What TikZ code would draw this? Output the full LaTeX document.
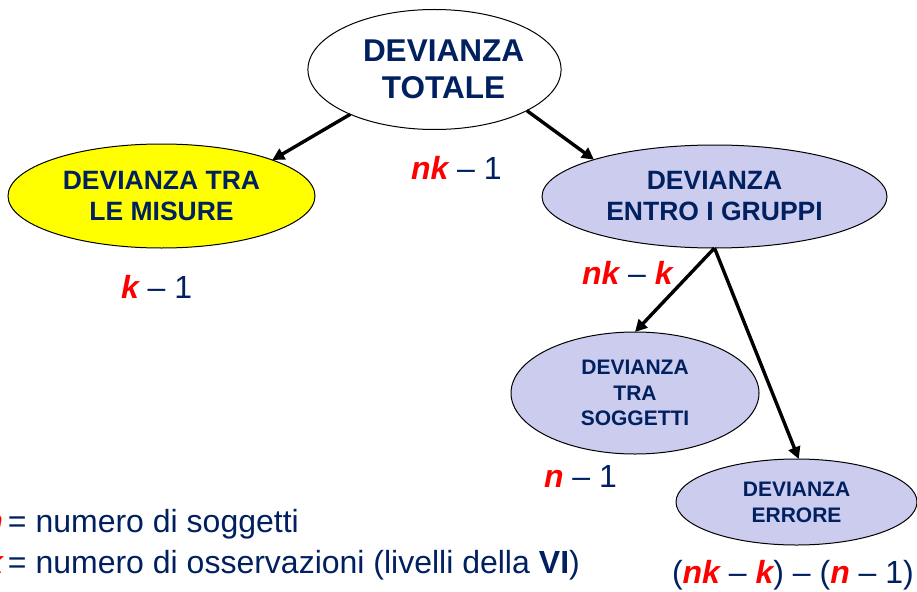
\documentclass[tikz,border=0pt]{standalone}
\usepackage{fontspec}
\setmainfont{Liberation Sans}
\usetikzlibrary{shapes.geometric,arrows.meta}
\definecolor{navy}{RGB}{0,32,96}
\definecolor{lav}{RGB}{204,204,238}
\definecolor{yel}{RGB}{255,255,0}
\newcommand{\V}[1]{{\color{red}\bfseries\itshape #1}}
\begin{document}
\begin{tikzpicture}[x=1pt,y=-1pt,
  ell/.style={ellipse,draw=black,line width=1pt,inner sep=0pt,outer sep=0pt,text=navy,align=center},
  conn/.style={line width=3.4pt,-{Triangle[length=12pt,width=12pt]}},
  lbl/.style={anchor=base west,inner sep=0pt,outer sep=0pt,text=navy,font=\fontsize{32}{38}\selectfont}]
\useasboundingbox (0,0) rectangle (917,591);
\clip (0,0) rectangle (917,591);
% ellipses
\node[ell,fill=white,minimum width=252pt,minimum height=120pt,font=\bfseries\fontsize{31.5}{37}\selectfont] (tot) at (434.5,69.5) {\hspace*{18pt}DEVIANZA\\\hspace*{18pt}TOTALE};
\node[ell,fill=yel,minimum width=307pt,minimum height=104pt,font=\bfseries\fontsize{26.5}{31}\selectfont] (mis) at (161.5,196) {DEVIANZA TRA\\LE MISURE};
\node[ell,fill=lav,minimum width=345pt,minimum height=103pt,font=\bfseries\fontsize{26.5}{31}\selectfont] (ent) at (714.5,196.5) {DEVIANZA\\ENTRO I GRUPPI};
\node[ell,fill=lav,minimum width=248pt,minimum height=122pt,font=\bfseries\fontsize{21}{25.5}\selectfont] (sog) at (635,393) {DEVIANZA\\TRA\\SOGGETTI};
\node[ell,fill=lav,minimum width=241pt,minimum height=86pt,font=\bfseries\fontsize{21}{26}\selectfont] (err) at (796.5,502) {DEVIANZA\\ERRORE};
% connectors
\draw[conn] (tot.208) -- (mis.18.5);
\draw[conn] (tot.336.8) -- (ent.163);
\draw[conn] (ent.south) -- (sog.north);
\draw[conn] (ent.south) -- (err.87);
% labels
\node[lbl] (l1) at (411,179) {\V{nk} – 1};
\node[lbl] (l2) at (121,298) {\V{k} – 1};
\node[lbl] (l3) at (582,284) {\V{nk} – \V{k}};
\node[lbl] (l4) at (544,487) {\V{n} – 1};
\node[lbl] (l5) at (672,583) {(\V{nk} – \V{k}) – (\V{n} – 1)};
% legend
\node[lbl] (g1) at (8,532) {\llap{\V{n}\hspace{5pt}}= numero di soggetti};
\node[lbl] (g2) at (8,573) {\llap{\V{k}\hspace{5pt}}= numero di osservazioni (livelli della \textbf{VI})};
\end{tikzpicture}
\end{document}
